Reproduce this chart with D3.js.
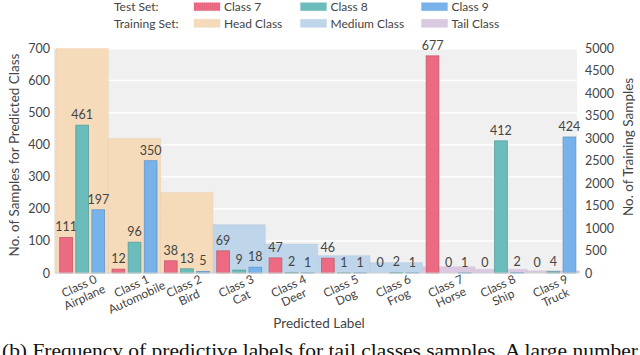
<!DOCTYPE html>
<html lang="en">
<head>
    <meta charset="UTF-8">
    <style>
        body { margin: 0; background: #fff; }
        svg { display: block; }
        text { font-family: Lato, "Noto Sans", sans-serif; fill: #444; }
    </style>
</head>
<body>
    <svg width="640" height="355"></svg>
    <script src="https://d3js.org/d3.v7.min.js"></script>
    <script>
        // categories
        const classIds = ["Class 0", "Class 1", "Class 2", "Class 3", "Class 4",
            "Class 5", "Class 6", "Class 7", "Class 8", "Class 9"];
        const classNames = ["Airplane", "Automobile", "Bird", "Cat", "Deer",
            "Dog", "Frog", "Horse", "Ship", "Truck"];

        // training set (right axis)
        const trainCounts = [5000, 2997, 1796, 1077, 645, 387, 232, 139, 83, 50];
        const trainGroup = ["Head", "Head", "Head", "Medium", "Medium", "Medium", "Medium", "Tail", "Tail", "Tail"];

        // test set predictions (left axis)
        const predClass7 = [111, 12, 38, 69, 47, 46, 0, 677, 0, 0];
        const predClass8 = [461, 96, 13, 9, 2, 1, 2, 0, 412, 4];
        const predClass9 = [197, 350, 5, 18, 1, 1, 1, 1, 2, 424];

        const leftTicks = [0, 100, 200, 300, 400, 500, 600, 700];
        const rightTicks = [0, 500, 1000, 1500, 2000, 2500, 3000, 3500, 4000, 4500, 5000];

        const testColors = { "Class 7": "#ec6a82", "Class 8": "#6bbdbc", "Class 9": "#77b3ea" };
        const trainColors = { "Head": "#f6dbbb", "Medium": "#bed5ea", "Tail": "#dbc9e1" };

        const svg = d3.select("svg");
        const plot = { left: 55, right: 577, top: 48.5, bottom: 273 };

        const x = d3.scaleBand().domain(classIds).range([56, 579.5]).padding(0);
        const xInner = d3.scaleBand().domain(["Class 7", "Class 8", "Class 9"])
            .range([0, x.bandwidth()]).paddingInner(0.21).paddingOuter(0.23);
        const yLeft = d3.scaleLinear().domain([0, 700]).range([plot.bottom, plot.top]);
        const yRight = d3.scaleLinear().domain([0, 5000]).range([plot.bottom, plot.top]);

        // background + grid
        svg.append("rect")
            .attr("x", plot.left).attr("y", plot.top + 1)
            .attr("width", plot.right - plot.left).attr("height", plot.bottom - plot.top - 1)
            .attr("fill", "#f0f0f0");
        svg.append("g").selectAll("line")
            .data(leftTicks.slice(1))
            .join("line")
            .attr("x1", plot.left).attr("x2", plot.right)
            .attr("y1", d => yLeft(d)).attr("y2", d => yLeft(d))
            .attr("stroke", "#fff").attr("stroke-width", 1.5);

        // training set rects
        svg.append("g").selectAll("rect")
            .data(classIds)
            .join("rect")
            .attr("x", d => x(d))
            .attr("width", x.bandwidth())
            .attr("y", (d, i) => yRight(trainCounts[i]))
            .attr("height", (d, i) => plot.bottom - yRight(trainCounts[i]))
            .attr("fill", (d, i) => trainColors[trainGroup[i]])
            .attr("stroke", (d, i) => d3.color(trainColors[trainGroup[i]]).darker(0.25))
            .attr("stroke-width", 0.6)
            .attr("stroke-dasharray", "1,1");

        // test set bars
        const series = [
            { key: "Class 7", values: predClass7 },
            { key: "Class 8", values: predClass8 },
            { key: "Class 9", values: predClass9 }
        ];
        const groups = svg.append("g").selectAll("g")
            .data(series)
            .join("g");
        groups.selectAll("rect")
            .data(s => s.values.map((v, i) => ({ key: s.key, v: v, cls: classIds[i] })))
            .join("rect")
            .attr("x", d => x(d.cls) + xInner(d.key))
            .attr("width", xInner.bandwidth())
            .attr("y", d => yLeft(d.v))
            .attr("height", d => plot.bottom - yLeft(d.v))
            .attr("fill", d => testColors[d.key])
            .attr("stroke", d => d.v > 0 ? d3.color(testColors[d.key]).darker(0.5) : "none")
            .attr("stroke-width", 0.8);
        groups.selectAll("text")
            .data(s => s.values.map((v, i) => ({ key: s.key, v: v, cls: classIds[i] })))
            .join("text")
            .attr("x", d => x(d.cls) + xInner(d.key) + xInner.bandwidth() / 2)
            .attr("y", d => yLeft(d.v) - 6)
            .attr("text-anchor", "middle")
            .attr("font-size", 12.5)
            .text(d => d.v);

        // axis lines
        svg.append("line")
            .attr("x1", plot.left).attr("x2", plot.left)
            .attr("y1", plot.top).attr("y2", plot.bottom)
            .attr("stroke", "#d4d4d4");
        svg.append("line")
            .attr("x1", plot.left).attr("x2", plot.right)
            .attr("y1", plot.bottom).attr("y2", plot.bottom)
            .attr("stroke", "#d4d4d4");

        // left axis
        const axL = svg.append("g")
            .attr("transform", `translate(${plot.left},0)`)
            .call(d3.axisLeft(yLeft).tickValues(leftTicks).tickSize(0).tickPadding(5));
        axL.select(".domain").remove();
        axL.selectAll("text").attr("font-size", 12.5).attr("font-family", null).attr("fill", "#444");

        // right axis
        const axR = svg.append("g")
            .attr("transform", `translate(582,0)`)
            .call(d3.axisRight(yRight).tickValues(rightTicks).tickFormat(d3.format("d")).tickSize(0).tickPadding(3));
        axR.select(".domain").remove();
        axR.selectAll("text").attr("font-size", 12.5).attr("font-family", null).attr("fill", "#444");

        // x labels
        const xl = svg.append("g").selectAll("g")
            .data(classIds)
            .join("g")
            .attr("transform", d => `translate(${x(d) + x.bandwidth() / 2 - 3},286) rotate(-25)`);
        xl.append("text")
            .attr("text-anchor", "middle")
            .attr("dy", "0.35em")
            .attr("font-size", 12)
            .text(d => d);
        xl.append("text")
            .attr("text-anchor", "middle")
            .attr("y", 12.5)
            .attr("dy", "0.35em")
            .attr("font-size", 12)
            .text((d, i) => classNames[i]);

        // axis titles
        svg.append("text")
            .attr("transform", "translate(19,155) rotate(-90)")
            .attr("text-anchor", "middle")
            .attr("font-size", 13.5)
            .text("No. of Samples for Predicted Class");
        svg.append("text")
            .attr("transform", "translate(633,147) rotate(-90)")
            .attr("text-anchor", "middle")
            .attr("font-size", 13.5)
            .text("No. of Training Samples");
        svg.append("text")
            .attr("x", 319).attr("y", 328)
            .attr("text-anchor", "middle")
            .attr("font-size", 13.5)
            .text("Predicted Label");

        // legend
        const legendRows = [
            { title: "Test Set:", y: 6.7, items: ["Class 7", "Class 8", "Class 9"].map(k => ({ label: k, color: testColors[k] })) },
            { title: "Training Set:", y: 23.3, items: ["Head", "Medium", "Tail"].map(k => ({ label: k + " Class", color: trainColors[k] })) }
        ];
        const legendX = [194, 300.5, 421.5];
        const lg = svg.append("g").selectAll("g")
            .data(legendRows)
            .join("g");
        lg.append("text")
            .attr("x", 114).attr("y", d => d.y)
            .attr("dy", "0.35em")
            .attr("font-size", 12)
            .text(d => d.title);
        lg.selectAll("rect")
            .data(d => d.items.map((it, i) => ({ ...it, i: i, y: d.y })))
            .join("rect")
            .attr("x", d => legendX[d.i]).attr("y", d => d.y - 4)
            .attr("width", 26).attr("height", 8)
            .attr("fill", d => d.color)
            .attr("stroke", d => d3.color(d.color).darker(0.3))
            .attr("stroke-width", 0.5)
            .attr("stroke-dasharray", "1,1");
        lg.selectAll("text.item")
            .data(d => d.items.map((it, i) => ({ ...it, i: i, y: d.y })))
            .join("text")
            .attr("class", "item")
            .attr("x", d => legendX[d.i] + 30).attr("y", d => d.y)
            .attr("dy", "0.35em")
            .attr("font-size", 12)
            .text(d => d.label);

        // caption (cut by the frame, as in the source figure)
        svg.append("text")
            .attr("x", 2).attr("y", 357)
            .style("font-family", "'Liberation Serif', 'DejaVu Serif', serif")
            .attr("font-size", 19)
            .style("fill", "#111")
            .attr("textLength", 636)
            .attr("lengthAdjust", "spacingAndGlyphs")
            .text("(b) Frequency of predictive labels for tail classes samples. A large number");
    </script>
</body>
</html>
